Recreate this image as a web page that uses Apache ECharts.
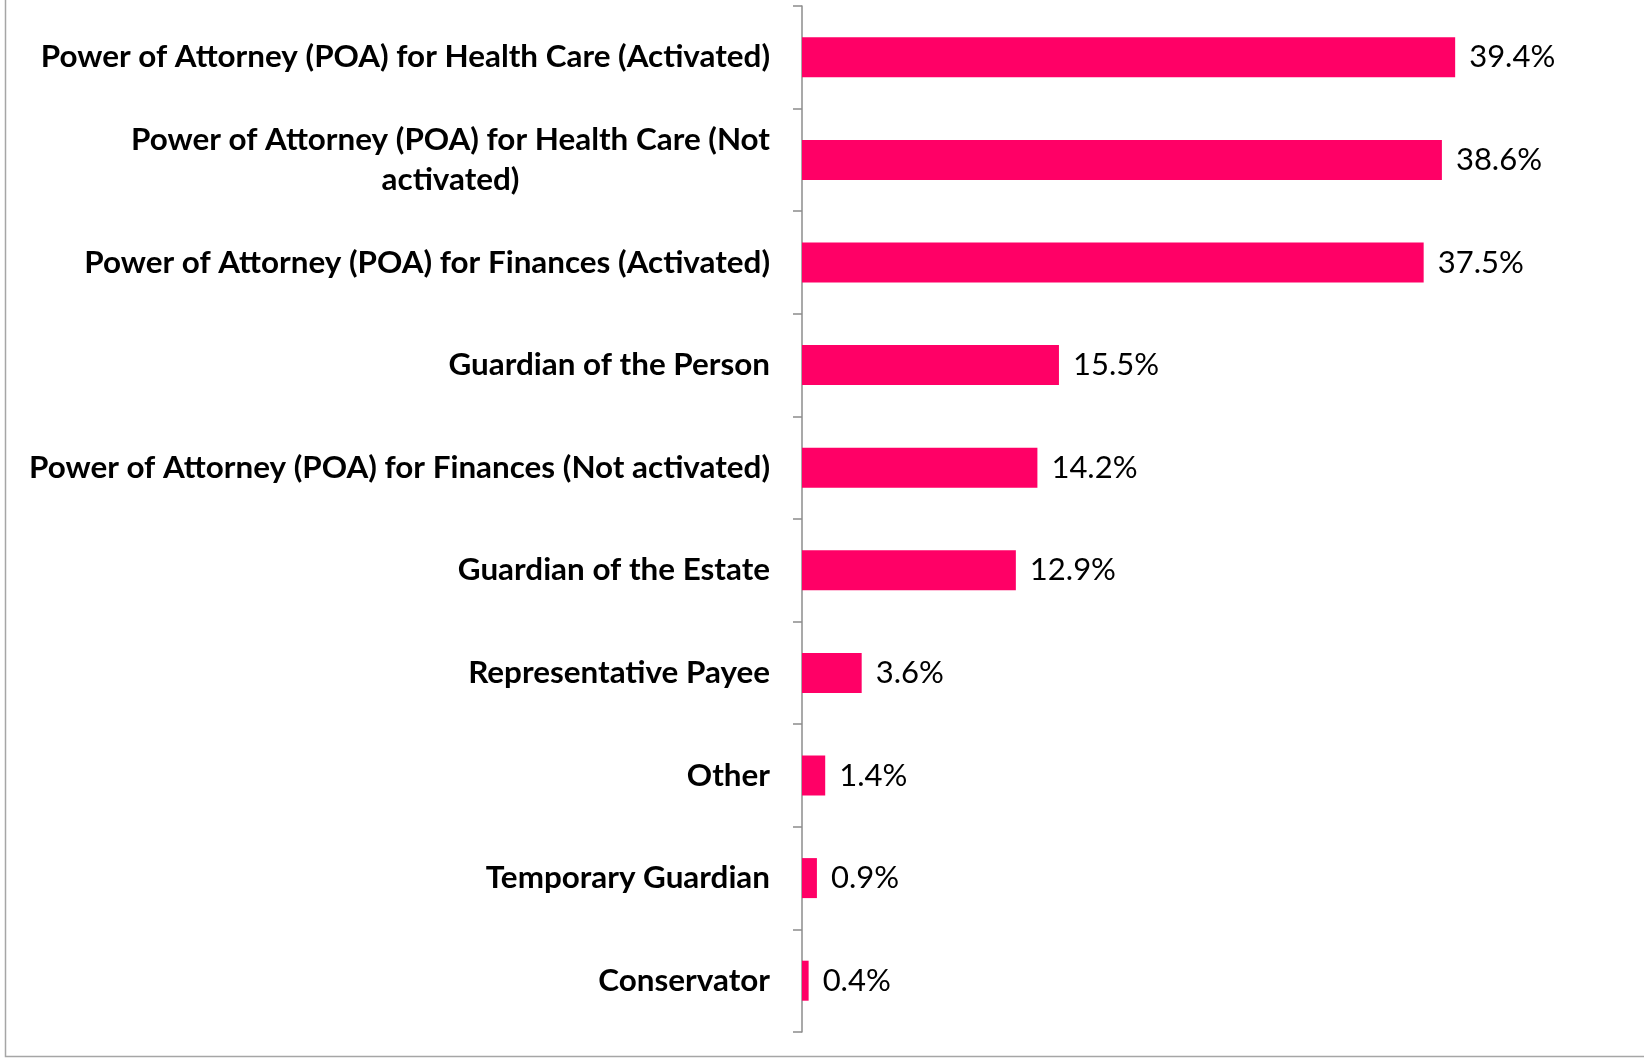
<!DOCTYPE html>
<html>
<head>
<meta charset="utf-8">
<script src="https://cdn.jsdelivr.net/npm/echarts@6/dist/echarts.min.js"></script>
<style>
html,body{margin:0;padding:0;background:#fff;}
#chart{width:1644px;height:1058px;}
</style>
</head>
<body>
<div id="chart"></div>
<script>
const categories = [
  'Power of Attorney (POA) for Health Care (Activated)',
  'Power of Attorney (POA) for Health Care (Not\nactivated)',
  'Power of Attorney (POA) for Finances (Activated)',
  'Guardian of the Person',
  'Power of Attorney (POA) for Finances (Not activated)',
  'Guardian of the Estate',
  'Representative Payee',
  'Other',
  'Temporary Guardian',
  'Conservator'
];
const values = [39.4, 38.6, 37.5, 15.5, 14.2, 12.9, 3.6, 1.4, 0.9, 0.4];

const chart = echarts.init(document.getElementById('chart'));
chart.setOption({
  animation: false,
  backgroundColor: '#fff',
  grid: { left: 802, right: 96, top: 6, bottom: 26, containLabel: false },
  xAxis: { type: 'value', min: 0, max: 45, show: false },
  yAxis: {
    type: 'category',
    data: categories,
    inverse: true,
    axisLine: { show: true, lineStyle: { color: '#8c8c8c', width: 1.5 } },
    axisTick: { show: true, length: 9, lineStyle: { color: '#8c8c8c', width: 1.5 } },
    axisLabel: {
      margin: 32,
      formatter: v => v.split('\n').map(s => '{c|' + s + '}').join('\n'),
      rich: {
        c: { fontFamily: 'Lato', fontWeight: 'bold', fontSize: 31.4, color: '#000', align: 'center', lineHeight: 40 }
      }
    },
    splitLine: { show: false }
  },
  series: [{
    type: 'bar',
    data: values,
    barWidth: 40,
    itemStyle: { color: '#ff0066' },
    label: {
      show: true,
      position: 'right',
      distance: 14,
      formatter: p => p.value.toFixed(1) + '%',
      fontFamily: 'Lato',
      fontSize: 31,
      color: '#000'
    }
  }],
  graphic: [{
    type: 'rect',
    shape: { x: 5.5, y: -10, width: 1700, height: 1066.5 },
    style: { fill: 'none', stroke: '#a6a6a6', lineWidth: 1.5 },
    silent: true
  }]
});
</script>
</body>
</html>
